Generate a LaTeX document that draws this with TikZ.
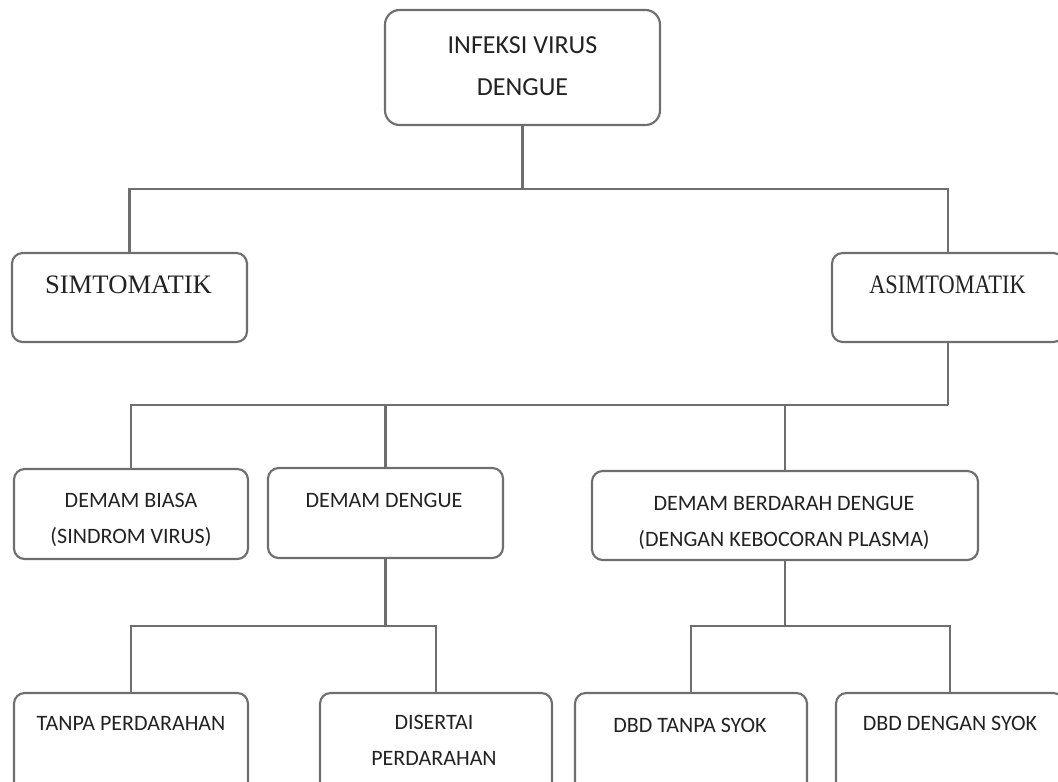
\documentclass[tikz,border=0pt]{standalone}
\usepackage{fontspec}
\usepackage{graphicx}
\setmainfont{Carlito}
\newfontfamily\serifface{Liberation Serif}
\definecolor{linegray}{HTML}{6E6E6E}
\definecolor{textgray}{HTML}{222222}
\begin{document}
\begin{tikzpicture}[x=0.75pt, y=-0.75pt,
    box/.style={draw=linegray, line width=1.6pt, rounded corners=8pt, inner sep=0pt},
    txt/.style={font=\fontsize{16.5}{27}\selectfont, text=textgray, align=center, inner sep=0pt, anchor=base},
    bigtxt/.style={txt, font=\fontsize{19.5}{31}\selectfont},
    seriftxt/.style={txt, font=\serifface\fontsize{20}{24}\selectfont},
    link/.style={draw=linegray, line width=1.6pt}]
    \useasboundingbox (0,0) rectangle (1058,782);
    \clip (0,0) rectangle (1058,782);

    % Kotak
    \node[box, rounded corners=11pt, minimum width=206.25pt, minimum height=86.25pt] (infeksi) at (522.5,67.5) {};
    \node[box, minimum width=176.25pt, minimum height=66.75pt] (simt) at (129.5,297.5) {};
    \node[box, minimum width=174pt, minimum height=66.75pt] (asimt) at (948,297.5) {};
    \node[box, minimum width=175.5pt, minimum height=67.5pt] (biasa) at (131,514) {};
    \node[box, minimum width=176.25pt, minimum height=67.5pt] (dengue) at (385.5,513) {};
    \node[box, minimum width=289.5pt, minimum height=66.75pt] (dbd) at (785,515.5) {};
    \node[box, minimum width=175.5pt, minimum height=75pt] (tanpa) at (131,743) {};
    \node[box, minimum width=174pt, minimum height=75pt] (disertai) at (436,743) {};
    \node[box, minimum width=174pt, minimum height=75pt] (dbdtanpa) at (691,743) {};
    \node[box, minimum width=171pt, minimum height=75pt] (dbdsyok) at (950,743) {};

    % Garis penghubung
    \draw[link] (infeksi.south) -- ++(0,63) coordinate (split1);
    \draw[link] (simt.north) |- (split1) -| (asimt.north);
    \draw[link] (asimt.south) -- ++(0,62) coordinate (split2);
    \draw[link] (biasa.north) |- (split2);
    \draw[link] (dengue.north) -- (dengue.north |- split2);
    \draw[link] (dbd.north) -- (dbd.north |- split2);
    \draw[link] (dengue.south) -- ++(0,67) coordinate (split3);
    \draw[link] (tanpa.north) |- (split3) -| (disertai.north);
    \draw[link] (dbd.south) -- ++(0,65) coordinate (split4);
    \draw[link] (dbdtanpa.north) |- (split4) -| (dbdsyok.north);

    % Teks (anchor base = garis dasar baris terakhir)
    \node[bigtxt] (infeksiTxt) at (522.5,95) {INFEKSI VIRUS\\DENGUE};
    \node[seriftxt] (simtTxt) at (128.5,293) {SIMTOMATIK};
    \node[seriftxt] (asimtTxt) at (947.5,293) {\scalebox{0.84}[1]{ASIMTOMATIK}};
    \node[txt] (biasaTxt) at (131,543) {DEMAM BIASA\\(SINDROM VIRUS)};
    \node[txt] (dengueTxt) at (384,507) {DEMAM DENGUE};
    \node[txt] (dbdTxt) at (784,546) {DEMAM BERDARAH DENGUE\\(DENGAN KEBOCORAN PLASMA)};
    \node[txt] (tanpaTxt) at (131,730) {TANPA PERDARAHAN};
    \node[txt] (disertaiTxt) at (434,765) {DISERTAI\\PERDARAHAN};
    \node[txt] (dbdtanpaTxt) at (690,732) {DBD TANPA SYOK};
    \node[txt] (dbdsyokTxt) at (950,730) {DBD DENGAN SYOK};
\end{tikzpicture}
\end{document}
